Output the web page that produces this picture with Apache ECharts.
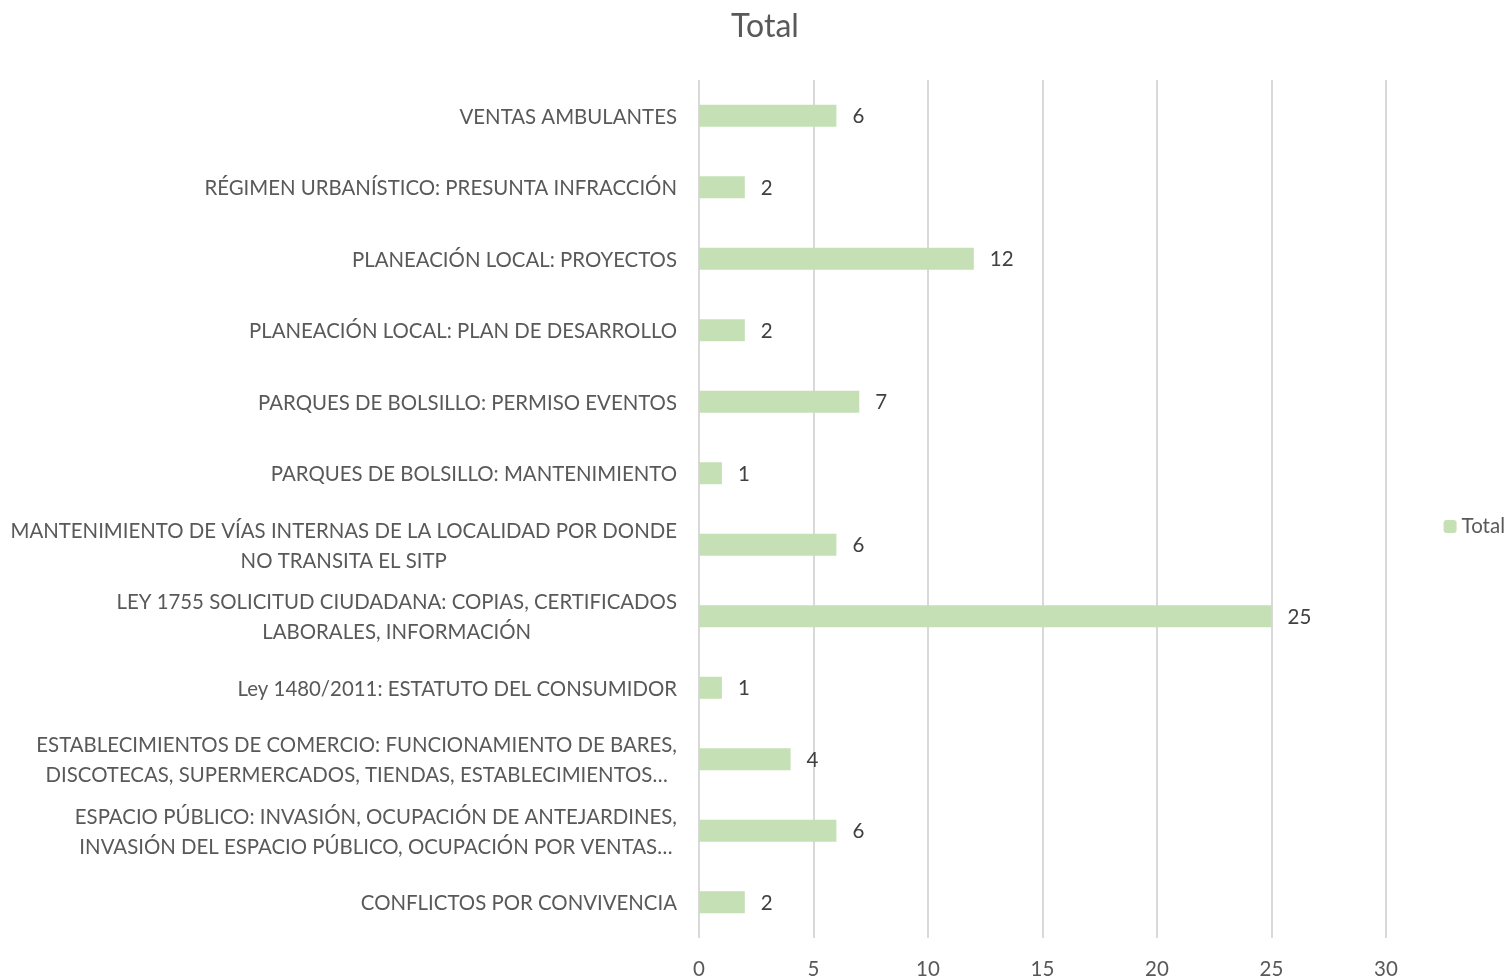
<!DOCTYPE html>
<html>
<head>
<meta charset="utf-8">
<script src="https://cdn.jsdelivr.net/npm/echarts@6/dist/echarts.min.js"></script>
<style>
html,body{margin:0;padding:0;background:#fff;}
#main{width:1512px;height:980px;}
</style>
</head>
<body>
<div id="main"></div>
<script>
// categories bottom to top, as they appear on the axis
const categories = [
	'CONFLICTOS POR CONVIVENCIA',
	'ESPACIO PÚBLICO: INVASIÓN, OCUPACIÓN DE ANTEJARDINES,\nINVASIÓN DEL ESPACIO PÚBLICO, OCUPACIÓN POR VENTAS…',
	'ESTABLECIMIENTOS DE COMERCIO: FUNCIONAMIENTO DE BARES,\nDISCOTECAS, SUPERMERCADOS, TIENDAS, ESTABLECIMIENTOS…',
	'Ley 1480/2011: ESTATUTO DEL CONSUMIDOR',
	'LEY 1755 SOLICITUD CIUDADANA: COPIAS, CERTIFICADOS\nLABORALES, INFORMACIÓN',
	'MANTENIMIENTO DE VÍAS INTERNAS DE LA LOCALIDAD POR DONDE\nNO TRANSITA EL SITP',
	'PARQUES DE BOLSILLO: MANTENIMIENTO',
	'PARQUES DE BOLSILLO: PERMISO EVENTOS',
	'PLANEACIÓN LOCAL: PLAN DE DESARROLLO',
	'PLANEACIÓN LOCAL: PROYECTOS',
	'RÉGIMEN URBANÍSTICO: PRESUNTA INFRACCIÓN',
	'VENTAS AMBULANTES'
];
const totals = [2, 6, 4, 1, 25, 6, 1, 7, 2, 12, 2, 6];
const xTicks = { min: 0, max: 30, interval: 5 };

const FONT = 'Lato';
const TXT = '#595959';

let myChart = echarts.init(document.getElementById('main'));
let option = {
	backgroundColor: '#fff',
	animation: false,
	title: {
		text: 'Total',
		left: 760,
		textAlign: 'center',
		top: 6,
		textStyle: { fontFamily: FONT, fontSize: 32, fontWeight: 'normal', color: TXT }
	},
	legend: {
		data: ['Total'],
		orient: 'vertical',
		right: 2,
		top: 511,
		itemWidth: 13,
		itemHeight: 13,
		itemGap: 6,
		textStyle: { fontFamily: FONT, fontSize: 20.5, color: TXT }
	},
	grid: {
		left: 699,
		right: 126,
		top: 80,
		bottom: 42
	},
	xAxis: {
		type: 'value',
		min: xTicks.min,
		max: xTicks.max,
		interval: xTicks.interval,
		axisLine: { show: false },
		axisTick: { show: false },
		splitLine: { lineStyle: { color: '#d9d9d9', width: 2 } },
		axisLabel: { fontFamily: FONT, fontSize: 20.5, color: TXT, margin: 21 }
	},
	yAxis: {
		type: 'category',
		data: categories,
		axisLine: { show: false },
		axisTick: { show: false },
		axisLabel: {
			margin: 22,
			padding: [3, 0, 0, 0],
			formatter: function (v) {
				return v.split('\n').map(function (s) { return '{c|' + s + '}'; }).join('\n');
			},
			rich: {
				c: { align: 'center', fontFamily: FONT, fontSize: 20.4, color: TXT, lineHeight: 30 }
			}
		}
	},
	series: [
		{
			name: 'Total',
			type: 'bar',
			data: totals,
			barWidth: 22,
			itemStyle: { color: '#c5e0b4' },
			label: {
				show: true,
				position: 'right',
				distance: 16,
				fontFamily: FONT,
				fontSize: 20.5,
				color: '#404040',
				offset: [0, 1]
			}
		}
	]
};
myChart.setOption(option);
</script>
</body>
</html>
